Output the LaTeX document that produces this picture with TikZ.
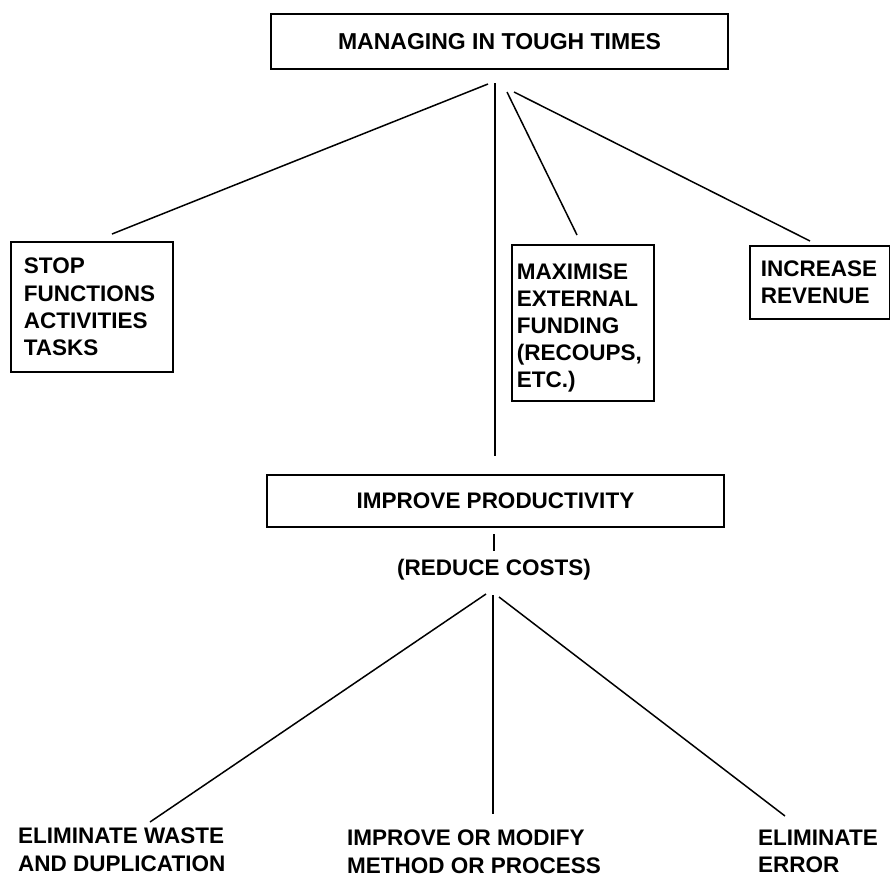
\documentclass[tikz,border=0pt]{standalone}
\usepackage{fontspec}
\setmainfont{Liberation Sans}
\begin{document}
\begin{tikzpicture}[x=1pt,y=-1pt,
  txt/.style={font=\bfseries\fontsize{22.5}{27.2}\selectfont},
  box/.style={txt, draw, line width=1.8pt, inner ysep=0pt},
  lbox/.style={box, anchor=north west, align=left},
  lbl/.style={txt, align=left, inner sep=0pt, anchor=north west},
  link/.style={line width=1.5pt}]
\useasboundingbox (0,0) rectangle (890,879);
% boxes
\node[box, minimum width=457pt, minimum height=55pt, font=\bfseries\fontsize{23}{27}\selectfont] (top) at (499.5,41.5) {MANAGING IN TOUGH TIMES};
\node[lbox, minimum height=130pt, text width=136pt, inner xsep=13pt] (stop) at (10,241) {STOP\\FUNCTIONS\\ACTIVITIES\\TASKS};
\node[lbox, minimum height=156pt, text width=132pt, inner xsep=5pt] (maxi) at (511,244) {\rule{0pt}{26pt}MAXIMISE\\EXTERNAL\\FUNDING\\(RECOUPS,\\ETC.)};
\node[lbox, minimum height=73pt, text width=118pt, inner xsep=11pt] (incr) at (749,245) {INCREASE\\REVENUE};
\node[box, minimum width=457pt, minimum height=52pt] (prod) at (495.5,501) {IMPROVE PRODUCTIVITY};
\node[txt, inner sep=0pt] (cost) at (494,570) {(REDUCE COSTS)};
% bottom labels
\node[lbl] (waste) at (18,828) {ELIMINATE WASTE\\AND DUPLICATION};
\node[lbl] (meth) at (347,830) {IMPROVE OR MODIFY\\METHOD OR PROCESS};
\node[lbl] (err) at (758,830) {ELIMINATE\\ERROR};
% connector ends
\coordinate (t1) at (488,84);  \coordinate (s1) at (112,234);
\coordinate (t2) at (495,83);  \coordinate (p1) at (495,456);
\coordinate (t3) at (507,92);  \coordinate (m1) at (577,235);
\coordinate (t4) at (514,92);  \coordinate (i1) at (810,241);
\coordinate (p2) at (494,534); \coordinate (p3) at (494,551);
\coordinate (r1) at (486,594); \coordinate (e1) at (150,822);
\coordinate (r2) at (493,595); \coordinate (e2) at (493,814);
\coordinate (r3) at (499,597); \coordinate (e3) at (785,816);
% connectors
\draw[link] (t1) -- (s1);
\draw[link] (t2) -- (p1);
\draw[link] (t3) -- (m1);
\draw[link] (t4) -- (i1);
\draw[link] (p2) -- (p3);
\draw[link] (r1) -- (e1);
\draw[link] (r2) -- (e2);
\draw[link] (r3) -- (e3);
\end{tikzpicture}
\end{document}
